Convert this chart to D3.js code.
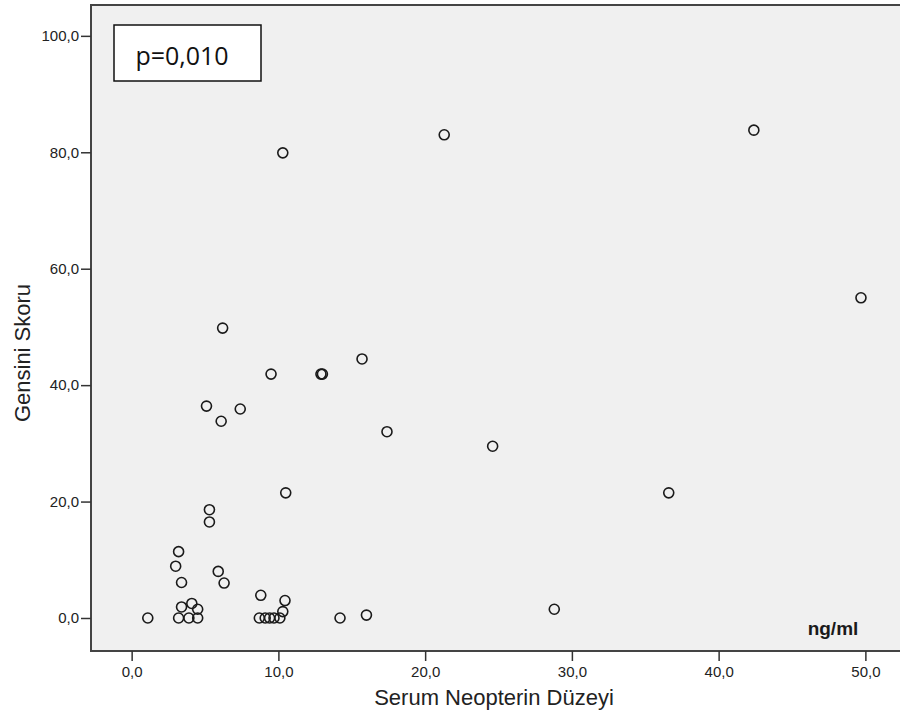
<!DOCTYPE html>
<html>
<head>
<meta charset="utf-8">
<script src="https://cdn.jsdelivr.net/npm/d3@7"></script>
<style>
    body { margin: 0; background: #fff; }
    .tick-label { font-family: "Liberation Sans", Arial, sans-serif; font-size: 15px; fill: #222; }
    .axis-title { font-family: "Liberation Sans", Arial, sans-serif; font-size: 22px; fill: #222; }
</style>
</head>
<body>
<div id="chart"></div>
<script>
// Serum neopterin (ng/ml) vs Gensini score
const neopterin = [1.1, 3.2, 3.9, 4.5, 3.4, 4.1, 4.5, 3.0, 3.2, 3.4,
    5.3, 5.3, 5.9, 6.3, 5.1, 6.1, 7.4, 6.2, 9.5, 10.3,
    10.5, 8.8, 8.7, 9.1, 9.4, 9.7, 10.1, 10.3, 10.45, 12.9,
    13.0, 14.2, 16.0, 15.7, 17.4, 21.3, 24.6, 28.8, 36.6, 42.4, 49.7];
const gensini = [0, 0, 0, 0, 1.9, 2.5, 1.5, 8.9, 11.4, 6.1,
    18.6, 16.5, 8.0, 6.0, 36.4, 33.8, 35.9, 49.8, 41.9, 79.9,
    21.5, 3.9, 0, 0, 0, 0, 0, 1.1, 3.0, 41.9,
    41.9, 0, 0.5, 44.5, 32.0, 83.0, 29.5, 1.5, 21.5, 83.8, 55.0];
const xTicks = [0, 10, 20, 30, 40, 50];
const yTicks = [0, 20, 40, 60, 80, 100];
const fmt = v => v.toFixed(1).replace(".", ",");

const width = 900, height = 715;
const svg = d3.select("#chart").append("svg")
    .attr("width", width)
    .attr("height", height);

const x = d3.scaleLinear().domain([-2.77, 52.7]).range([91, 905]);
const y = d3.scaleLinear().domain([-5.67, 105.3]).range([651, 5]);

// Plot background + frame
svg.append("rect")
    .attr("x", x.range()[0]).attr("y", y.range()[1])
    .attr("width", x.range()[1] - x.range()[0])
    .attr("height", y.range()[0] - y.range()[1])
    .attr("fill", "#f0f0f0")
    .attr("stroke", "#444")
    .attr("stroke-width", 2);

// X axis
const xAxis = svg.append("g")
    .attr("transform", `translate(0, ${y.range()[0]})`)
    .call(d3.axisBottom(x).tickValues(xTicks).tickFormat(fmt).tickSize(10).tickPadding(5));
xAxis.select(".domain").remove();
xAxis.selectAll("line").attr("stroke", "#333").attr("stroke-width", 1.5);
xAxis.selectAll("text").attr("class", "tick-label");

// Y axis
const yAxis = svg.append("g")
    .attr("transform", `translate(${x.range()[0]}, 0)`)
    .call(d3.axisLeft(y).tickValues(yTicks).tickFormat(fmt).tickSize(10).tickPadding(2));
yAxis.select(".domain").remove();
yAxis.selectAll("line").attr("stroke", "#333").attr("stroke-width", 1.5);
yAxis.selectAll("text").attr("class", "tick-label");

// Points
svg.append("g")
    .selectAll("circle")
    .data(neopterin.map((v, i) => ({ x: v, y: gensini[i] })))
    .enter()
    .append("circle")
    .attr("cx", d => x(d.x))
    .attr("cy", d => y(d.y))
    .attr("r", 5)
    .attr("fill", "none")
    .attr("stroke", "#1a1a1a")
    .attr("stroke-width", 1.6);

// Axis titles
svg.append("text")
    .attr("class", "axis-title")
    .attr("x", 494)
    .attr("y", 705)
    .attr("text-anchor", "middle")
    .text("Serum Neopterin Düzeyi");

svg.append("text")
    .attr("class", "axis-title")
    .attr("transform", "translate(30, 353) rotate(-90)")
    .attr("text-anchor", "middle")
    .text("Gensini Skoru");

// Unit note
svg.append("text")
    .attr("x", 833)
    .attr("y", 635)
    .attr("text-anchor", "middle")
    .style("font-family", "'Liberation Sans', Arial, sans-serif")
    .style("font-size", "19px")
    .style("font-weight", "bold")
    .style("fill", "#1a1a1a")
    .text("ng/ml");

// p-value box
svg.append("rect")
    .attr("x", 114).attr("y", 25)
    .attr("width", 147).attr("height", 56)
    .attr("fill", "#fff")
    .attr("stroke", "#111")
    .attr("stroke-width", 1.5);
svg.append("text")
    .attr("x", 182)
    .attr("y", 65)
    .attr("text-anchor", "middle")
    .style("font-family", "'Open Sans', 'Liberation Sans', sans-serif")
    .style("font-size", "25px")
    .style("fill", "#111")
    .text("p=0,010");
</script>
</body>
</html>
